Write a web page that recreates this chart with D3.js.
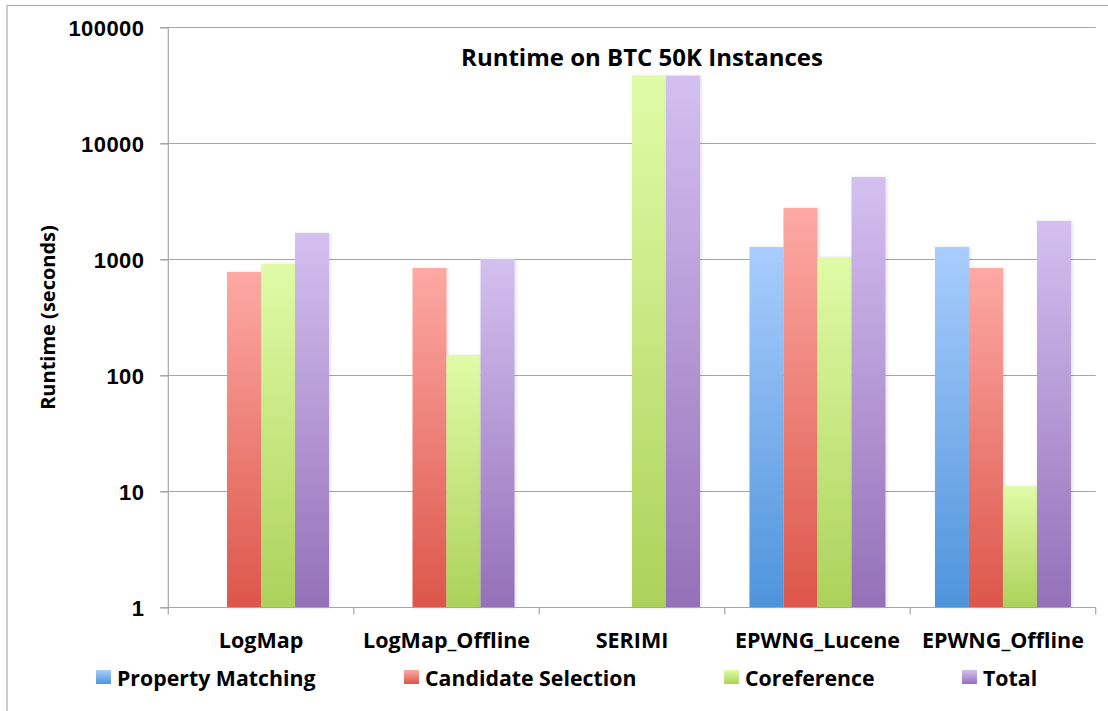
<!DOCTYPE html>
<html><head><meta charset="utf-8">
<script src="https://cdn.jsdelivr.net/npm/d3@7"></script>
<style>body{margin:0;background:#fff}svg{display:block}</style>
</head><body>
<svg id="c" width="1108" height="711"></svg>
<script>
const categories = ["LogMap","LogMap_Offline","SERIMI","EPWNG_Lucene","EPWNG_Offline"];
const seriesNames = ["Property Matching","Candidate Selection","Coreference","Total"];
const propertyMatching = [null, null, null, 1280, 1280];
const candidateSelection = [780, 845, null, 2780, 845];
const coreference = [915, 150, 38500, 1050, 11.1];
const total = [1690, 1010, 38500, 5140, 2150];
const yTicks = [1, 10, 100, 1000, 10000, 100000];
const colorsTop = ["#a9cdfd","#fda9a4","#e0fba7","#d4c0f0"];
const colorsBottom = ["#4e94db","#dc564a","#acd25a","#9470b8"];

(function(){
const seriesValues = [propertyMatching, candidateSelection, coreference, total];
const svg = d3.select("#c");
const pLeft = 168.3, pRight = 1095.7, pTop = 27.5, pBottom = 607.5;
const font = "'Open Sans', Lato, sans-serif";

const defs = svg.append("defs");
seriesNames.forEach((s,i)=>{
  const g = defs.append("linearGradient").attr("id","g"+i).attr("x1",0).attr("y1",0).attr("x2",0).attr("y2",1);
  g.append("stop").attr("offset","0%").attr("stop-color",colorsTop[i]);
  g.append("stop").attr("offset","100%").attr("stop-color",colorsBottom[i]);
});
const f = defs.append("filter").attr("id","sh").attr("x","-20%").attr("y","-5%").attr("width","140%").attr("height","110%");
f.append("feDropShadow").attr("dx",1.5).attr("dy",0).attr("stdDeviation",1.5).attr("flood-color","#000").attr("flood-opacity",0.12);

// outer frame
svg.append("rect").attr("x",7).attr("y",5.5).attr("width",1200).attr("height",800)
  .attr("fill","none").attr("stroke","#b0b0b0").attr("stroke-width",1.2);

const y = d3.scaleLog().domain([1,100000]).range([pBottom, pTop]);
const x0 = d3.scaleBand().domain(categories).range([pLeft, pRight]).padding(0);
const bw = x0.bandwidth();
const barW = 34;
const pad = (bw - barW*4)/2;
const x1 = d3.scaleBand().domain(seriesNames).range([pad, bw - pad]).padding(0);

// gridlines
svg.append("g").selectAll("line").data(yTicks.slice(1)).join("line")
  .attr("x1",pLeft-8).attr("x2",pRight).attr("y1",d=>y(d)).attr("y2",d=>y(d))
  .attr("stroke","#a6a6a6").attr("stroke-width",1.2);

// y axis
const yAxis = d3.axisLeft(y).tickValues(yTicks).tickFormat(d3.format("d")).tickSize(8).tickPadding(16);
const ga = svg.append("g").attr("transform",`translate(${pLeft},0)`).call(yAxis);
ga.select(".domain").attr("stroke","#a6a6a6").attr("stroke-width",1.2).attr("d",`M-8,${pTop}H0V${pBottom}`);
ga.selectAll(".tick line").attr("stroke","#a6a6a6").attr("stroke-width",1.2);
ga.selectAll(".tick text").attr("font-family","'Liberation Sans', Arial, sans-serif").attr("font-weight","bold")
  .attr("font-size",22).attr("letter-spacing","0.4px").attr("fill","#000").attr("dy","0.36em");

// bars
const gb = svg.append("g");
categories.forEach((c,ci)=>{
  seriesValues.forEach((vals,si)=>{
    const v = vals[ci];
    if (v == null) return;
    gb.append("rect").attr("x",x0(c)+x1(seriesNames[si])).attr("y",y(v))
      .attr("width",x1.bandwidth()).attr("height",pBottom - y(v))
      .attr("fill",`url(#g${si})`).attr("filter","url(#sh)");
  });
});

// x axis
const xAxis = d3.axisBottom(x0).tickSize(0).tickPadding(0);
const gx = svg.append("g").attr("transform",`translate(0,${pBottom})`).call(xAxis);
gx.select(".domain").attr("stroke","#a6a6a6").attr("stroke-width",1.2).attr("d",`M${pLeft-8},0H${pRight}`);
gx.selectAll(".tick text").attr("font-family",font).attr("font-weight","bold").attr("font-size",21.5)
  .attr("fill","#000").attr("y",40).attr("dy",0);
svg.append("g").selectAll("line").data(d3.range(categories.length+1)).join("line")
  .attr("x1",i=>pLeft+i*bw).attr("x2",i=>pLeft+i*bw).attr("y1",pBottom).attr("y2",pBottom+7)
  .attr("stroke","#a6a6a6").attr("stroke-width",1.2);

// title
svg.append("text").attr("x",642).attr("y",66).attr("text-anchor","middle")
  .attr("font-family",font).attr("font-weight","bold").attr("font-size",24).text("Runtime on BTC 50K Instances");

// y title
svg.append("text").attr("transform",`translate(55,${(pTop+pBottom)/2}) rotate(-90)`).attr("text-anchor","middle")
  .attr("font-family",font).attr("font-weight","bold").attr("font-size",20).text("Runtime (seconds)");

// legend
const legendX = [96, 404, 724, 962];
const lg = svg.append("g");
seriesNames.forEach((s,i)=>{
  lg.append("rect").attr("x",legendX[i]).attr("y",670).attr("width",15).attr("height",14).attr("fill",`url(#g${i})`);
  lg.append("text").attr("x",legendX[i]+21).attr("y",686).attr("font-family",font).attr("font-weight","bold")
    .attr("font-size",21.3).text(s);
});
})();
</script>
</body></html>
